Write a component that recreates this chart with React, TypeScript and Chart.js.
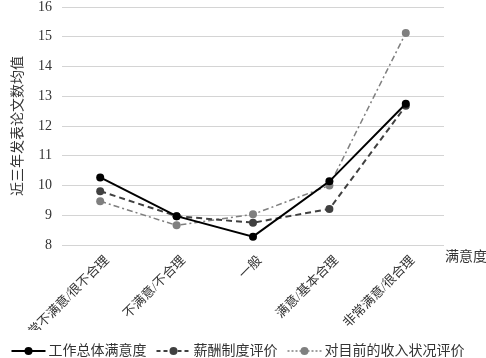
import React, { useEffect, useRef } from "react";
import { Chart, registerables } from "chart.js";

Chart.register(...registerables);

const categories = ["非常不满意/很不合理", "不满意/不合理", "一般", "满意/基本合理", "非常满意/很合理"];
const seriesNames = ["工作总体满意度", "薪酬制度评价", "对目前的收入状况评价"];
const workSatisfaction = [10.27, 8.97, 8.28, 10.14, 12.75];
const payEvaluation = [9.81, 8.97, 8.75, 9.21, 12.68];
const incomeEvaluation = [9.47, 8.66, 9.03, 10.0, 15.13];
const yTitle = "近三年发表论文数均值";
const xTitle = "满意度";

const FONT = "'Liberation Serif', 'Noto Sans CJK SC', serif";
const colors = ["#000000", "#404040", "#7f7f7f"];
const dashes: number[][] = [[], [6, 4], [6, 3, 2, 3]];
const widths = [2, 2, 1.5];

const extrasPlugin = {
  id: "extras",
  afterDraw(chart: any) {
    const ctx = chart.ctx;
    const area = chart.chartArea;
    ctx.save();
    // x axis title
    ctx.fillStyle = "#333";
    ctx.font = `14px ${FONT}`;
    ctx.textAlign = "left";
    ctx.textBaseline = "middle";
    ctx.fillText(xTitle, area.right + 1, area.bottom + 12);

    // legend
    ctx.font = `14px ${FONT}`;
    const markerW = 34;
    const gapText = 3;
    const gapItem = 10;
    const tw = seriesNames.map((n) => ctx.measureText(n).width);
    let total = 0;
    tw.forEach((w, i) => {
      total += markerW + gapText + w + (i < tw.length - 1 ? gapItem : 0);
    });
    let x = 238 - total / 2;
    const y = chart.height - 7;
    seriesNames.forEach((name, i) => {
      ctx.strokeStyle = colors[i];
      ctx.lineWidth = widths[i];
      ctx.setLineDash(i === 2 ? [2, 2] : dashes[i].length ? [4, 3] : []);
      ctx.beginPath();
      ctx.moveTo(x, y);
      ctx.lineTo(x + markerW, y);
      ctx.stroke();
      ctx.setLineDash([]);
      ctx.fillStyle = colors[i];
      ctx.beginPath();
      ctx.arc(x + markerW / 2, y, 4, 0, Math.PI * 2);
      ctx.fill();
      ctx.fillStyle = "#333";
      ctx.textAlign = "left";
      ctx.fillText(name, x + markerW + gapText, y);
      x += markerW + gapText + tw[i] + gapItem;
    });
    ctx.restore();
  },
};

export default function App() {
  const ref = useRef<HTMLCanvasElement | null>(null);
  useEffect(() => {
    if (!ref.current) return;
    const data = [workSatisfaction, payEvaluation, incomeEvaluation];
    const chart = new Chart(ref.current, {
      type: "line",
      data: {
        labels: categories,
        datasets: seriesNames.map((name, i) => ({
          label: name,
          data: data[i],
          borderColor: colors[i],
          backgroundColor: colors[i],
          borderWidth: widths[i],
          borderDash: dashes[i],
          pointRadius: 4,
          pointHoverRadius: 4,
          pointBackgroundColor: colors[i],
          pointBorderColor: colors[i],
          pointBorderWidth: 0,
          tension: 0,
          fill: false,
        })),
      },
      options: {
        animation: false,
        responsive: false,
        layout: { padding: { top: 0, right: 42, bottom: 28, left: 10 } },
        plugins: {
          legend: { display: false },
          tooltip: { enabled: false },
        },
        scales: {
          x: {
            offset: true,
            grid: { display: false },
            border: { display: false },
            ticks: {
              minRotation: 45,
              maxRotation: 45,
              autoSkip: false,
              color: "#333",
              font: { family: FONT, size: 13 },
              padding: 0,
              labelOffset: 7,
            },
            afterFit(scale: any) {
              scale.height = 85;
            },
          },
          y: {
            min: 8,
            max: 16,
            ticks: {
              stepSize: 1,
              color: "#333",
              font: { family: FONT, size: 14, lineHeight: 1 },
              padding: 0,
            },
            grid: {
              color: "#d4d4d4",
              lineWidth: 1,
              drawTicks: true,
              tickLength: 10,
              tickColor: "rgba(0,0,0,0)",
            },
            border: { display: false },
            title: {
              display: true,
              text: yTitle,
              color: "#333",
              font: { family: FONT, size: 14 },
              padding: { top: 0, bottom: 0 },
            },
            afterFit(scale: any) {
              scale.width = 52;
            },
          },
        },
      },
      plugins: [extrasPlugin],
    });
    return () => chart.destroy();
  }, []);
  return (
    <div style={{ position: "fixed", left: 0, top: 0, width: 486, height: 358, background: "#fff" }}>
      <canvas ref={ref} width={486} height={358} style={{ width: 486, height: 358 }} />
    </div>
  );
}
